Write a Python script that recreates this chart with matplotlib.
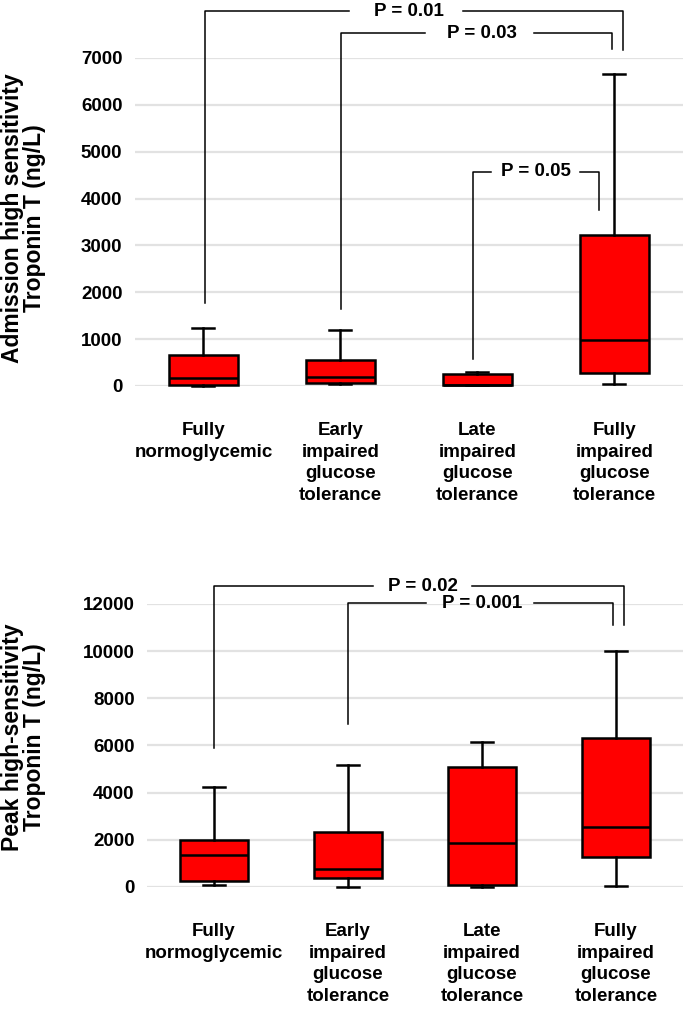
import matplotlib
matplotlib.use("Agg")
import matplotlib.pyplot as plt

plt.rcParams['font.family'] = ['Liberation Sans', 'DejaVu Sans']
plt.rcParams['font.weight'] = 'bold'

groups = ["Fully\nnormoglycemic", "Early\nimpaired\nglucose\ntolerance",
          "Late\nimpaired\nglucose\ntolerance", "Fully\nimpaired\nglucose\ntolerance"]

# admission hs-TnT (ng/L): low whisker, Q1, median, Q3, high whisker
adm_lo = [5, 40, 15, 40]
adm_q1 = [25, 65, 20, 280]
adm_med = [170, 195, 25, 980]
adm_q3 = [660, 555, 255, 3220]
adm_hi = [1235, 1195, 300, 6650]

# peak hs-TnT (ng/L)
peak_lo = [70, 20, 20, 40]
peak_q1 = [260, 390, 85, 1270]
peak_med = [1340, 770, 1870, 2560]
peak_q3 = [2000, 2320, 5100, 6320]
peak_hi = [4230, 5160, 6160, 10020]

# significance brackets: text, left x, right x, bar height, left end, right end,
# text x, gap in the bar around the text
adm_p = ["P = 0.01", "P = 0.03", "P = 0.05"]
adm_left = [1.015, 2.007, 2.964]
adm_right = [4.066, 3.985, 3.89]
adm_bar = [8000, 7530, 4570]
adm_lend = [1770, 1640, 575]
adm_rend = [7170, 7190, 3755]
adm_tx = [2.50, 3.03, 3.43]
adm_gap0 = [2.066, 2.62, 3.10]
adm_gap1 = [2.898, 3.41, 3.75]

peak_p = ["P = 0.02", "P = 0.001"]
peak_left = [1.0, 2.0]
peak_right = [4.06, 3.98]
peak_bar = [12750, 12030]
peak_lend = [5900, 6920]
peak_rend = [11100, 11100]
peak_tx = [2.56, 3.0]
peak_gap0 = [2.187, 2.582]
peak_gap1 = [2.925, 3.388]


def draw_panel(ax, lo, q1, med, q3, hi, ymax, step,
               ptxt, pl, pr, pbar, plend, prend, ptx, g0, g1):
    stats = []
    for a, b, c, d, e in zip(lo, q1, med, q3, hi):
        stats.append(dict(whislo=a, q1=b, med=c, q3=d, whishi=e, fliers=[]))
    lw = 1.8
    arts = ax.bxp(stats, positions=[1, 2, 3, 4], widths=0.51, patch_artist=True,
                  showfliers=False, capwidths=0.16,
                  boxprops=dict(facecolor='#ff0000', edgecolor='black', linewidth=lw),
                  medianprops=dict(color='black', linewidth=lw),
                  whiskerprops=dict(color='black', linewidth=lw),
                  capprops=dict(color='black', linewidth=lw))
    for k in arts:
        for a in arts[k]:
            a.set_clip_on(False)
            a.set_zorder(3)
    ax.set_xlim(0.5, 4.5)
    ax.set_ylim(0, ymax)
    ax.set_yticks(range(0, ymax + 1, step))
    ax.yaxis.grid(True, color='#e2e2e2', linewidth=1.6)
    ax.set_axisbelow(True)
    for s in ax.spines.values():
        s.set_visible(False)
    ax.set_xticks([])
    ax.tick_params(axis='y', length=0, pad=9, labelsize=13.5)
    for i, g in enumerate(groups):
        ax.annotate(g, xy=(i + 1, 0), xycoords=('data', 'axes fraction'),
                    xytext=(0, -26), textcoords='offset points',
                    ha='center', va='top', fontsize=13.5, linespacing=1.36)
    for t, x0, x1, yb, y0, y1, tx, a0, a1 in zip(ptxt, pl, pr, pbar, plend, prend, ptx, g0, g1):
        ax.plot([x0, x0, a0], [y0, yb, yb], color='black', lw=1.1,
                clip_on=False, zorder=4)
        ax.plot([a1, x1, x1], [yb, yb, y1], color='black', lw=1.1,
                clip_on=False, zorder=4)
        ax.text(tx, yb, t, ha='center', va='center', fontsize=13.5, zorder=5,
                clip_on=False)
    return ax


fig = plt.figure(figsize=(6.85, 10.13), dpi=100)
ax1 = fig.add_axes([0.197, 0.619, 0.800, 0.3238])
ax2 = fig.add_axes([0.2146, 0.1244, 0.7825, 0.2794])

draw_panel(ax1, adm_lo, adm_q1, adm_med, adm_q3, adm_hi, 7000, 1000,
           adm_p, adm_left, adm_right, adm_bar, adm_lend, adm_rend, adm_tx,
           adm_gap0, adm_gap1)
draw_panel(ax2, peak_lo, peak_q1, peak_med, peak_q3, peak_hi, 12000, 2000,
           peak_p, peak_left, peak_right, peak_bar, peak_lend, peak_rend, peak_tx,
           peak_gap0, peak_gap1)

fig.text(0.034, 0.785, "Admission high sensitivity\nTroponin T (ng/L)", rotation=90,
         ha='center', va='center', fontsize=16.5, linespacing=0.95, multialignment='center')
fig.text(0.034, 0.2725, "Peak high-sensitivity\nTroponin T (ng/L)", rotation=90,
         ha='center', va='center', fontsize=16.5, linespacing=0.95, multialignment='center')

fig.savefig("out.png", dpi=100, facecolor='white')
